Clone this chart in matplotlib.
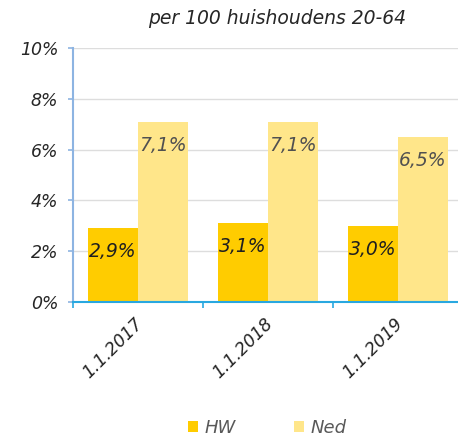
import matplotlib.pyplot as plt
import matplotlib.transforms as mtrans
import numpy as np

# data
categories = ['1.1.2017', '1.1.2018', '1.1.2019']
hw = [2.9, 3.1, 3.0]
ned = [7.1, 7.1, 6.5]
series_names = ['HW', 'Ned']
title = 'per 100 huishoudens 20-64'

c_hw = '#FFCC00'
c_ned = '#FFE68A'

plt.rcParams['font.family'] = 'DejaVu Sans'
plt.rcParams['font.style'] = 'italic'

fig = plt.figure(figsize=(4.58, 4.41), dpi=100)
ax = fig.add_axes([73 / 458, 1 - 302 / 441, 390 / 458, 254 / 441])

x = np.arange(len(categories))
w = 0.385
b1 = ax.bar(x - w / 2, hw, w, color=c_hw, label=series_names[0], zorder=2)
b2 = ax.bar(x + w / 2, ned, w, color=c_ned, label=series_names[1], zorder=2)

def fmt(v):
    return ('%.1f%%' % v).replace('.', ',')

for xi, v in zip(x - w / 2, hw):
    ax.annotate(fmt(v), (xi, v), xytext=(0, -17), textcoords='offset points',
                ha='center', va='center', fontsize=13.5, color='#1F1F1F', zorder=3)
for xi, v in zip(x + w / 2, ned):
    ax.annotate(fmt(v), (xi, v), xytext=(0, -17), textcoords='offset points',
                ha='center', va='center', fontsize=13.5, color='#505050', zorder=3)

ax.set_xlim(-0.5, len(categories) - 0.5)
ax.set_ylim(0, 10)
ax.set_yticks([0, 2, 4, 6, 8, 10])
ax.set_yticklabels(['%d%%' % t for t in [0, 2, 4, 6, 8, 10]], fontsize=12.5, color='#262626')

# category labels, rotated, placed by hand below each group
ax.set_xticks(np.arange(-0.5, len(categories)))
ax.set_xticklabels([])
lbl_tr = ax.get_xaxis_transform() + mtrans.ScaledTranslation(8 / 100, -13 / 100, fig.dpi_scale_trans)
for xi, c in zip(x, categories):
    ax.text(xi, 0, c, transform=lbl_tr, rotation=45, ha='right', va='top',
            fontsize=12.5, color='#262626', clip_on=False)

ax.tick_params(axis='x', length=4, color='#29A8E0', width=1.2)
ax.tick_params(axis='y', length=3.6, color='#8DB4E2', width=1.2, pad=7)

ax.yaxis.grid(True, color='#DDDDDD', linewidth=1, zorder=0)
ax.set_axisbelow(True)
for s in ['top', 'right']:
    ax.spines[s].set_visible(False)
ax.spines['left'].set_color('#8DB4E2')
ax.spines['left'].set_linewidth(1.5)
ax.spines['bottom'].set_color('#29A8E0')
ax.spines['bottom'].set_linewidth(1.5)

fig.text(277 / 458, 1 - 18 / 441, title, ha='center', va='center', fontsize=13.5, color='#262626')

fig.legend(loc='center', bbox_to_anchor=(267 / 458, 1 - 428 / 441), ncol=2, frameon=False,
           handlelength=0.55, handleheight=0.55, handletextpad=0.35, columnspacing=3.25,
           prop={'size': 13, 'style': 'italic'}, labelcolor='#595959')

fig.savefig('out.png', dpi=100)
